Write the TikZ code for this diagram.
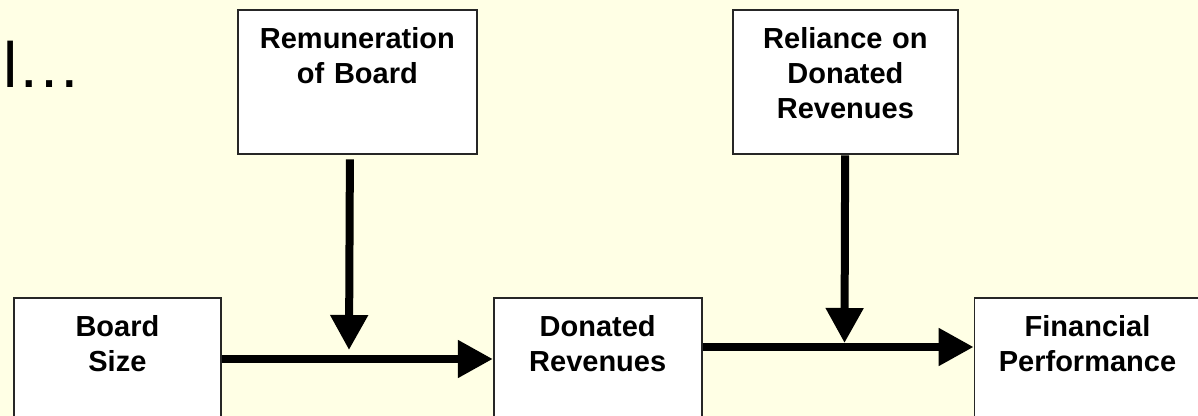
\documentclass[tikz,border=0pt]{standalone}
\usepackage{fontspec}
\setmainfont{Liberation Sans}
\usetikzlibrary{arrows.meta,positioning}
\definecolor{paleyellow}{RGB}{255,255,229}

\begin{document}
\begin{tikzpicture}[x=0.5pt,y=-0.5pt,>={Triangle[length=17.5pt,width=18pt]},
                    node distance=135.5pt]
    \tikzstyle{box}=[draw=black!85,fill=white,line width=0.9pt,align=center,
                     inner sep=0pt,text height=19.25pt,
                     font=\bfseries\fontsize{14.5}{17.5}\selectfont]
    \tikzstyle{flow}=[->,line width=4pt]

    \fill[paleyellow] (0,0) rectangle (1198,416);
    \useasboundingbox (0,0) rectangle (1198,416);

    \node[anchor=base west,inner sep=0pt,font=\fontsize{32}{38}\selectfont] (title) at (3,88) {l…};

    \node[box,text width=119.5pt,text depth=53pt,anchor=north west] (rem) at (237,9) {Remuneration\\of Board};
    \node[box,text width=112.5pt,text depth=53pt,anchor=north west] (rel) at (732,9) {Reliance on\\Donated\\Revenues};

    \node[box,text width=103.5pt,text depth=65pt,anchor=north west] (board) at (13,297) {Board\\Size};
    \node[box,text width=104pt,text depth=65pt] (donated) [right=of board] {Donated\\Revenues};
    \node[box,text width=113pt,text depth=65pt] (fin) [right=of donated] {Financial\\Performance};

    \coordinate (j1) at (349,350);
    \coordinate (j2) at (844.5,343);

    \path ([yshift=-31pt]board.north east) edge[flow] ([yshift=-31pt]donated.north west)
          ([yshift=-25pt]donated.north east) edge[flow] ([yshift=-25pt]fin.north west)
          ([xshift=-3.75pt,yshift=-2pt]rem.south) edge[flow] (j1)
          (rel) edge[flow] (j2);
\end{tikzpicture}
\end{document}
